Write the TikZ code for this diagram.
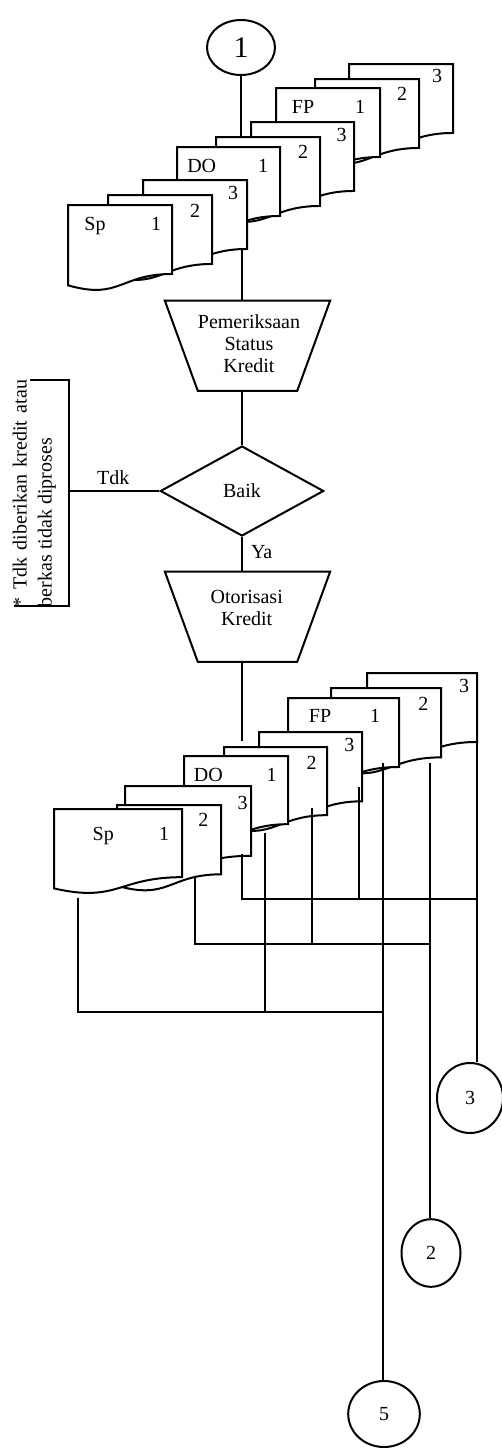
\documentclass[tikz,border=0pt]{standalone}
\usepackage{fontspec}
\setmainfont{Liberation Serif}
\usetikzlibrary{calc,shapes.geometric}

\tikzset{
  wire/.style={line width=2pt},
  docbox/.style={rectangle, draw=none, inner sep=0pt, outer sep=0pt, anchor=north west},
  docline/.style={draw, fill=white, line width=2pt, line join=miter},
  lbl/.style={inner sep=0pt, font=\fontsize{20}{22}\selectfont, anchor=base},
  txt/.style={inner sep=0pt, font=\fontsize{20}{22.2}\selectfont, align=center},
  conn/.style={ellipse, draw, line width=2pt, inner sep=0pt, font=\fontsize{20}{22}\selectfont},
  procbox/.style={rectangle, draw=none, inner sep=0pt, minimum width=165pt, minimum height=90pt},
  decision/.style={diamond, draw, line width=2pt, inner sep=0pt, minimum width=163.4pt,
    minimum height=90pt, font=\fontsize{20}{22}\selectfont},
}

% document symbol: rectangle with a wavy lower edge, filled white
\newcommand\docsheet[5]{%
  \node[docbox, minimum width=#4pt, minimum height=#5pt] (#1) at (#2,#3) {};
  \draw[docline] (#1.north west) -- (#1.north east)
    -- ($(#1.north east)!0.802!(#1.south east)$)
    .. controls ($(#1.north)!0.802!(#1.south)$) and ($(#1.north)!1.107!(#1.south)$)
    .. ($(#1.north west)!0.934!(#1.south west)$) -- cycle;
}
% manual operation symbol (inverted trapezoid) drawn around a box node
\newcommand\manualop[3]{%
  \node[procbox] (#1) at (#2,#3) {};
  \draw[wire] (#1.north west) -- (#1.north east) -- ([xshift=-33pt]#1.south east)
    -- ([xshift=33pt]#1.south west) -- cycle;
}

\begin{document}
\begin{tikzpicture}[x=1pt, y=-1pt]
\useasboundingbox (0,0) rectangle (502,1448);

% ---------- upper set of documents (back to front) ----------
\docsheet{ufp3}{349}{64}{104}{86}
\docsheet{ufp2}{315}{79}{104}{86}
\docsheet{ufp1}{276}{88}{104}{86}
\docsheet{udo3}{251}{122}{103}{86}
\docsheet{udo2}{216}{137}{104}{86}
\docsheet{udo1}{177}{147}{103}{86}
\docsheet{usp3}{143}{180}{104}{86}
\docsheet{usp2}{108}{195}{104}{86}
\docsheet{usp1}{68}{205}{104}{86}

\node[lbl] (ufp3n) at (437,82.7) {3};
\node[lbl] (ufp2n) at (402,100.2) {2};
\node[lbl] (ufp1t) at (303,113.7) {FP};
\node[lbl] (ufp1n) at (360,113.7) {1};
\node[lbl] (udo3n) at (341.7,141.7) {3};
\node[lbl] (udo2n) at (303,158.4) {2};
\node[lbl] (udo1t) at (201.7,172.4) {DO};
\node[lbl] (udo1n) at (263,172.4) {1};
\node[lbl] (usp3n) at (233,199.7) {3};
\node[lbl] (usp2n) at (195,217.4) {2};
\node[lbl] (usp1t) at (95,230.7) {Sp};
\node[lbl] (usp1n) at (156,230.7) {1};

% ---------- connector 1 ----------
\node[conn, minimum width=68pt, minimum height=55pt, font=\fontsize{30}{32}\selectfont]
  (c1) at (241,47.5) {1};
\draw[wire] (c1.south) -- (c1.south |- udo2.north);

% ---------- credit check ----------
\manualop{pem}{247.5}{345.7}
\node[txt] (pemt) at (249,343.5) {Pemeriksaan\\Status\\Kredit};
\coordinate (usp3b) at (242,249);
\draw[wire] (usp3b) -- (usp3b |- pem.north);

\node[decision] (baik) at (242,491) {Baik};
\draw[wire] (baik.north |- pem.south) -- (baik.north);

\manualop{oto}{247.5}{616.7}
\node[txt] (otot) at (246.7,608.3) {Otorisasi\\Kredit};
\draw[wire] (baik.south) -- (baik.south |- oto.north);
\node[txt] (ya) at (261.7,551.7) {Ya};

% ---------- rejected branch with note ----------
\coordinate (brk) at (69,491);
\coordinate (bt1) at (30,380);
\coordinate (bt2) at (69,380);
\coordinate (bb2) at (69,606);
\coordinate (bb1) at (14,606);
\draw[wire] (baik.west) -- (brk);
\node[txt] (tdk) at (113.3,477.3) {Tdk};
\draw[wire] (bt1) -- (bt2) -- (bb2) -- (bb1);
\node[inner sep=0pt, rotate=90, text width=227pt, align=justify,
  font=\fontsize{20}{25}\selectfont] (note) at (34.2,493.5)
  {\hyphenpenalty=10000 * Tdk diberikan kredit atau berkas tidak diproses};

% ---------- lower set of documents (back to front) ----------
\coordinate (otob) at (242,741);
\draw[wire] (oto.south -| otob) -- (otob);

\docsheet{lfp3}{367}{673}{110}{86}
\docsheet{lfp2}{331}{688}{110}{86.5}
\docsheet{lfp1}{288}{698}{111}{86}
\docsheet{ldo3}{259}{732}{103}{86.4}
\docsheet{ldo2}{224}{747}{103}{85}
\docsheet{ldo1}{184}{756}{104}{85}
\docsheet{lsp3}{125}{786}{126}{87}
\docsheet{lsp2}{117}{805}{104}{86.4}
\docsheet{lsp1}{54}{809}{128}{85}

\node[lbl] (lfp3n) at (464,692.7) {3};
\node[lbl] (lfp2n) at (423.3,710) {2};
\node[lbl] (lfp1t) at (320,722.7) {FP};
\node[lbl] (lfp1n) at (375,722.7) {1};
\node[lbl] (ldo3n) at (349.3,751.7) {3};
\node[lbl] (ldo2n) at (311.7,769.4) {2};
\node[lbl] (ldo1t) at (208.3,781.7) {DO};
\node[lbl] (ldo1n) at (271.7,781.7) {1};
\node[lbl] (lsp3n) at (242.7,809.4) {3};
\node[lbl] (lsp2n) at (203.3,826.7) {2};
\node[lbl] (lsp1t) at (103.3,840) {Sp};
\node[lbl] (lsp1n) at (164,840) {1};

% ---------- outgoing connectors ----------
\node[conn, minimum width=66pt, minimum height=70pt] (c3) at (470,1098) {3};
\node[conn, minimum width=59pt, minimum height=67.6pt] (c2) at (431,1253) {2};
\node[conn, minimum width=71.6pt, minimum height=66pt] (c5) at (384,1414) {5};

% drop points under each copy
\coordinate (dsp1) at (78,898);
\coordinate (dsp2) at (195,877);
\coordinate (dsp3) at (242,854);
\coordinate (ddo1) at (265,833);
\coordinate (ddo2) at (312,808);
\coordinate (ddo3) at (359,787);
\coordinate (dfp1) at (383,763);
\coordinate (dfp2) at (430,763);
\coordinate (dfp3) at (477,742);

% copy 3 of each document -> connector 3
\coordinate (bus1) at (477,899);
\draw[wire] (dsp3) |- (bus1);
\draw[wire] (ddo3) -- (ddo3 |- bus1);
\draw[wire] (dfp3) -- (dfp3 |- c3.north);

% copy 2 of each document -> connector 2
\coordinate (bus2) at (430,944);
\draw[wire] (dsp2) |- (bus2);
\draw[wire] (ddo2) -- (ddo2 |- bus2);
\draw[wire] (dfp2) -- (dfp2 |- c2.north);

% copy 1 of each document -> connector 5
\coordinate (bus3) at (383,1012);
\draw[wire] (dsp1) |- (bus3);
\draw[wire] (ddo1) -- (ddo1 |- bus3);
\draw[wire] (dfp1) -- (dfp1 |- c5.north);

\end{tikzpicture}
\end{document}
